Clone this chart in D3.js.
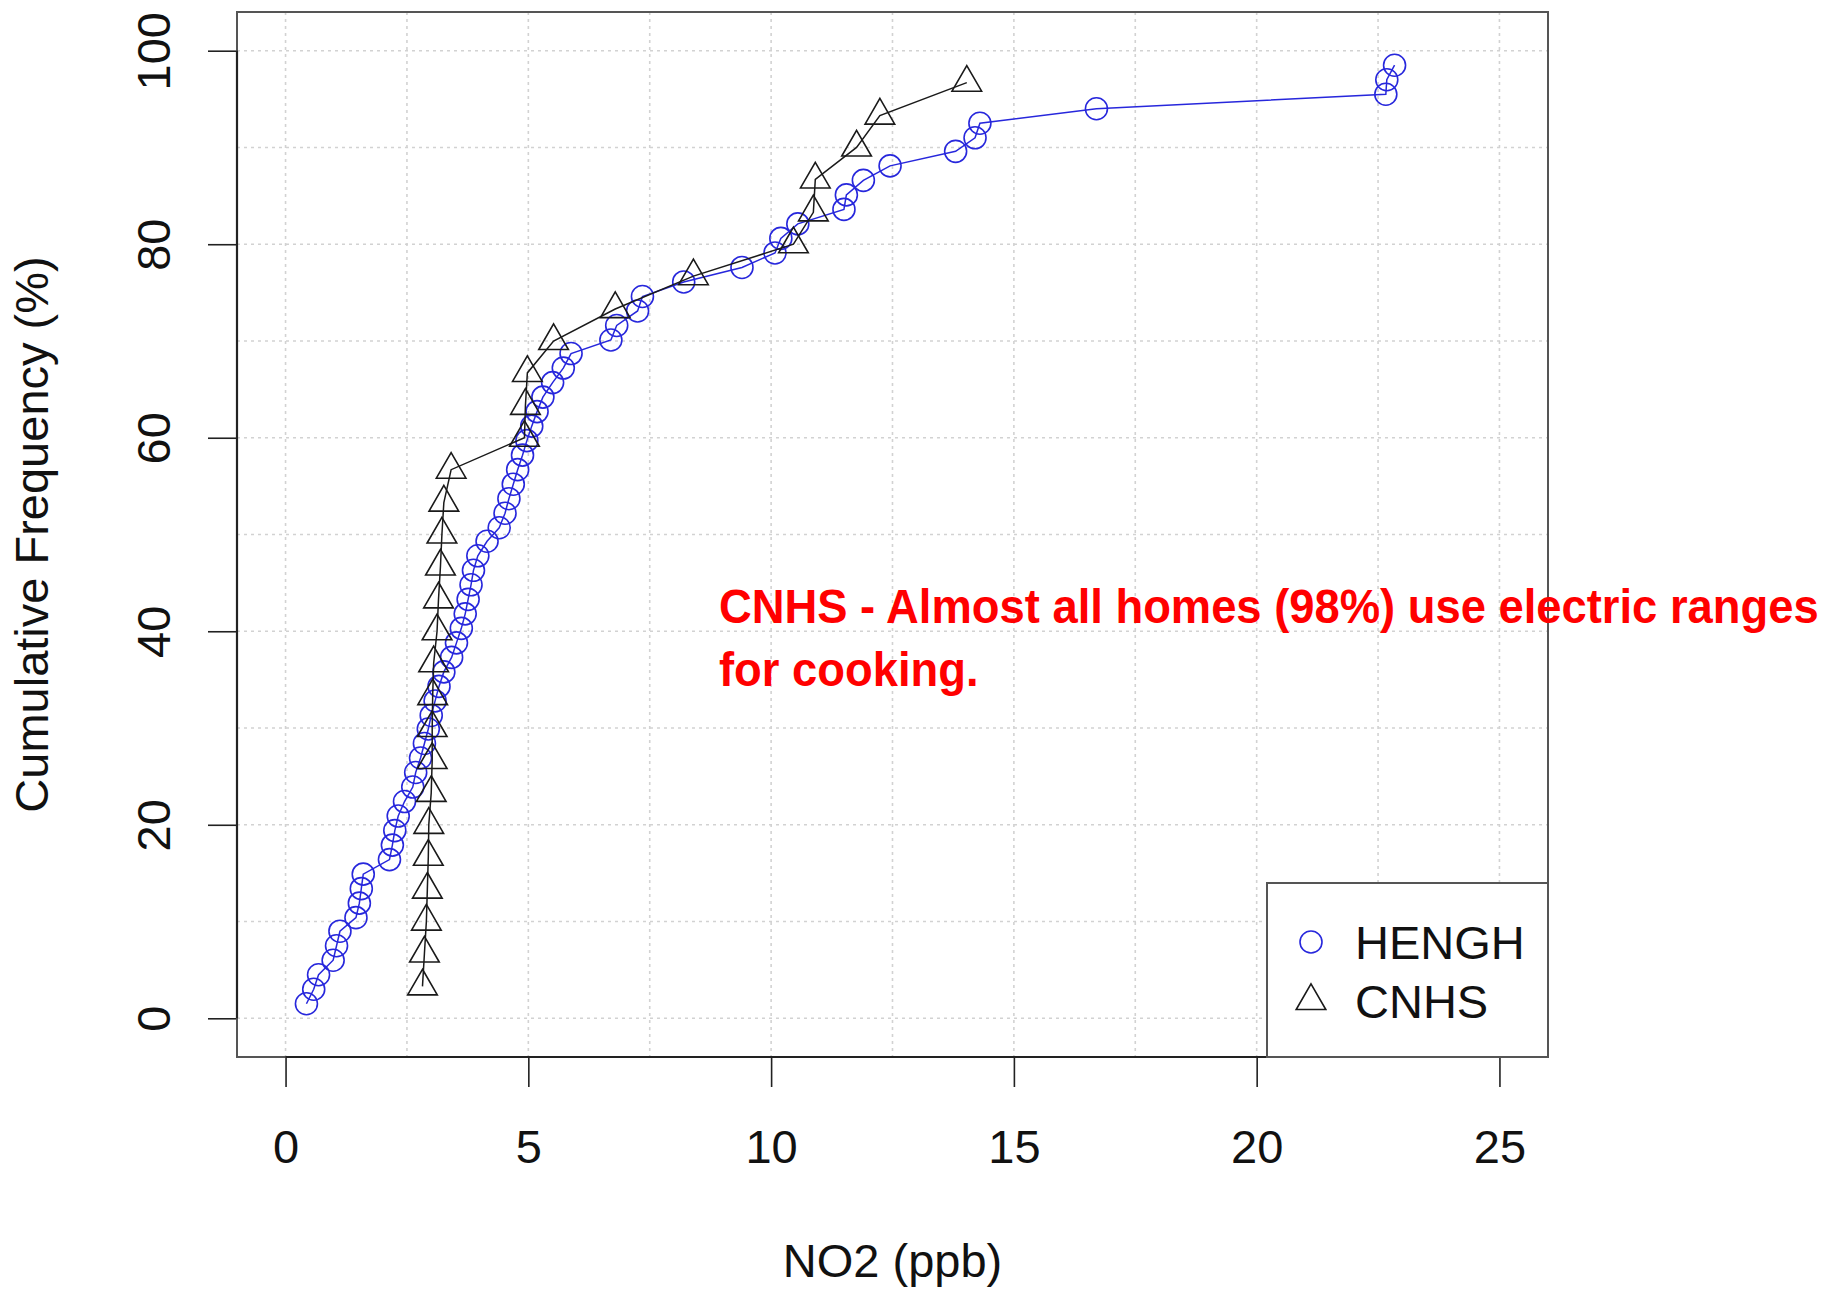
<!DOCTYPE html>
<html>
<head>
<meta charset="utf-8">
<script src="https://cdn.jsdelivr.net/npm/d3@7/dist/d3.min.js"></script>
<style>
	body { margin: 0; background: #fff; }
	svg { display: block; font-family: 'Liberation Sans', Arial, Helvetica, sans-serif; }
</style>
</head>
<body>
<svg id="chart" width="1831" height="1291"></svg>
<script>
// HENGH: cumulative frequency (%) vs NO2 (ppb)
const hengX = [
	0.43, 0.58, 0.68, 0.98, 1.05, 1.12, 1.45, 1.52, 1.56, 1.60,
	2.14, 2.20, 2.25, 2.32, 2.45, 2.62, 2.68, 2.78, 2.86, 2.94,
	3.00, 3.08, 3.16, 3.26, 3.42, 3.52, 3.62, 3.70, 3.76, 3.82,
	3.87, 3.96, 4.15, 4.40, 4.52, 4.60, 4.69, 4.78, 4.88, 4.97,
	5.07, 5.18, 5.30, 5.50, 5.72, 5.88, 6.70, 6.82, 7.25, 7.35,
	8.20, 9.40, 10.08, 10.20, 10.55, 11.50, 11.55, 11.90, 12.45, 13.80,
	14.20, 14.30, 16.70, 22.66, 22.68, 22.84
];
const hengY = [
	1.5, 3.0, 4.5, 6.0, 7.5, 9.0, 10.4, 11.9, 13.4, 14.9,
	16.4, 17.9, 19.4, 20.9, 22.4, 23.9, 25.4, 26.9, 28.4, 29.9,
	31.3, 32.8, 34.3, 35.8, 37.3, 38.8, 40.3, 41.8, 43.3, 44.8,
	46.3, 47.8, 49.3, 50.7, 52.2, 53.7, 55.2, 56.7, 58.2, 59.7,
	61.2, 62.7, 64.2, 65.7, 67.2, 68.7, 70.1, 71.6, 73.1, 74.6,
	76.1, 77.6, 79.1, 80.6, 82.1, 83.6, 85.1, 86.6, 88.1, 89.6,
	91.0, 92.5, 94.0, 95.5, 97.0, 98.5
];

// CNHS
const cnhsX = [
	2.82, 2.86, 2.90, 2.92, 2.94, 2.95, 3.00, 3.02, 3.02, 3.03,
	3.05, 3.12, 3.15, 3.19, 3.22, 3.26, 3.41, 4.92, 4.94, 4.98,
	5.52, 6.79, 8.40, 10.46, 10.87, 10.91, 11.76, 12.24, 14.03
];
const cnhsY = [
	3.3, 6.7, 10.0, 13.3, 16.7, 20.0, 23.3, 26.7, 30.0, 33.3,
	36.7, 40.0, 43.3, 46.7, 50.0, 53.3, 56.7, 60.0, 63.3, 66.7,
	70.0, 73.3, 76.7, 80.0, 83.3, 86.7, 90.0, 93.3, 96.7
];

const xTicks = [0, 5, 10, 15, 20, 25];
const yTicks = [0, 20, 40, 60, 80, 100];
const xGrid = [0, 2.5, 5, 7.5, 10, 12.5, 15, 17.5, 20, 22.5, 25];
const yGrid = [0, 10, 20, 30, 40, 50, 60, 70, 80, 90, 100];

const seriesNames = ['HENGH', 'CNHS'];
const note = ['CNHS - Almost all homes (98%) use electric ranges', 'for cooking.'];

const $svg = d3.select('#chart');

// plot region (R style: limits padded 4%)
const box = { left: 237, top: 12, right: 1548, bottom: 1057 };
const x = d3.scaleLinear().domain([-1, 26]).range([box.left, box.right]);
const y = d3.scaleLinear().domain([-4, 104]).range([box.bottom, box.top]);

const blue = '#2727dc';
const dark = '#1a1a1a';
const markerSize = 380;

const circle = d3.symbol().type(d3.symbolCircle).size(markerSize);
const triangle = d3.symbol().type(d3.symbolTriangle).size(markerSize);

function zip(xs, ys) {
	return xs.map((v, i) => ({ x: v, y: ys[i] }));
}

function setupGrid() {
	const $grid = $svg.append('g').attr('class', 'grid');
	$grid.selectAll('.grid__v')
		.data(xGrid)
		.join('line')
		.attr('class', 'grid__v')
		.attr('x1', d => x(d))
		.attr('x2', d => x(d))
		.attr('y1', box.top)
		.attr('y2', box.bottom);
	$grid.selectAll('.grid__h')
		.data(yGrid)
		.join('line')
		.attr('class', 'grid__h')
		.attr('x1', box.left)
		.attr('x2', box.right)
		.attr('y1', d => y(d))
		.attr('y2', d => y(d));
	$grid.selectAll('line')
		.attr('stroke', '#d2d2d2')
		.attr('stroke-width', 1.6)
		.attr('stroke-dasharray', '3,4');
}

function setupAxes() {
	const $x = $svg.append('g')
		.attr('transform', `translate(0,${box.bottom})`)
		.call(d3.axisBottom(x).tickValues(xTicks).tickSize(30).tickFormat(d3.format('d')));
	$x.select('.domain').remove();
	$x.selectAll('.tick line').attr('stroke', '#222').attr('stroke-width', 1.6);
	$x.selectAll('.tick text')
		.attr('y', 106)
		.attr('dy', 0)
		.attr('fill', '#111')
		.style('font-size', '47px')
		.style('font-family', "'Liberation Sans', Arial, sans-serif");

	const $y = $svg.append('g')
		.attr('transform', `translate(${box.left},0)`)
		.call(d3.axisLeft(y).tickValues(yTicks).tickSize(29).tickFormat(d3.format('d')));
	$y.select('.domain').remove();
	$y.selectAll('.tick line').attr('stroke', '#222').attr('stroke-width', 1.6);
	$y.selectAll('.tick text')
		.attr('transform', 'rotate(-90)')
		.attr('x', 0)
		.attr('y', -67)
		.attr('dy', 0)
		.attr('text-anchor', 'middle')
		.attr('fill', '#111')
		.style('font-size', '47px')
		.style('font-family', "'Liberation Sans', Arial, sans-serif");

	// box, then axis lines over it
	$svg.append('rect')
		.attr('x', box.left)
		.attr('y', box.top)
		.attr('width', box.right - box.left)
		.attr('height', box.bottom - box.top)
		.attr('fill', 'none')
		.attr('stroke', '#555')
		.attr('stroke-width', 2);
	$svg.append('line')
		.attr('x1', x(xTicks[0])).attr('x2', x(xTicks[xTicks.length - 1]))
		.attr('y1', box.bottom).attr('y2', box.bottom)
		.attr('stroke', '#222').attr('stroke-width', 2.2);
	$svg.append('line')
		.attr('x1', box.left).attr('x2', box.left)
		.attr('y1', y(yTicks[0])).attr('y2', y(yTicks[yTicks.length - 1]))
		.attr('stroke', '#222').attr('stroke-width', 2.2);

	$svg.append('text')
		.attr('x', (box.left + box.right) / 2)
		.attr('y', 1277)
		.attr('text-anchor', 'middle')
		.attr('fill', '#111')
		.style('font-size', '47px')
		.text('NO2 (ppb)');

	$svg.append('text')
		.attr('transform', `translate(48,${(box.top + box.bottom) / 2}) rotate(-90)`)
		.attr('text-anchor', 'middle')
		.attr('fill', '#111')
		.style('font-size', '47px')
		.text('Cumulative Frequency (%)');
}

function drawSeries(data, color, symbol) {
	const line = d3.line().x(d => x(d.x)).y(d => y(d.y));
	const $g = $svg.append('g');
	$g.append('path')
		.datum(data)
		.attr('d', line)
		.attr('fill', 'none')
		.attr('stroke', color)
		.attr('stroke-width', 1.5);
	$g.selectAll('.pt')
		.data(data)
		.join('path')
		.attr('class', 'pt')
		.attr('transform', d => `translate(${x(d.x)},${y(d.y)})`)
		.attr('d', symbol)
		.attr('fill', 'none')
		.attr('stroke', color)
		.attr('stroke-width', 1.6);
}

function drawLegend() {
	const $legend = $svg.append('g');
	$legend.append('rect')
		.attr('x', 1267)
		.attr('y', 883)
		.attr('width', box.right - 1267)
		.attr('height', box.bottom - 883)
		.attr('fill', '#fff')
		.attr('stroke', '#555')
		.attr('stroke-width', 2);

	const rows = [
		{ name: seriesNames[0], color: blue, symbol: circle, cy: 942 },
		{ name: seriesNames[1], color: dark, symbol: triangle, cy: 1001 }
	];
	const $row = $legend.selectAll('.legend__row')
		.data(rows)
		.join('g')
		.attr('class', 'legend__row');
	$row.append('path')
		.attr('transform', d => `translate(1311,${d.cy})`)
		.attr('d', d => d.symbol())
		.attr('fill', 'none')
		.attr('stroke', d => d.color)
		.attr('stroke-width', 1.6);
	$row.append('text')
		.attr('x', 1355)
		.attr('y', d => d.cy + 17)
		.attr('fill', '#111')
		.style('font-size', '47px')
		.text(d => d.name);
}

function drawNote() {
	// squeezed a little horizontally, closer to the narrow bold face of the original
	$svg.selectAll('.note')
		.data(note)
		.join('text')
		.attr('class', 'note')
		.attr('transform', (d, i) => `translate(719,${623 + i * 63}) scale(0.945,1)`)
		.attr('fill', '#ff0000')
		.attr('font-weight', 'bold')
		.style('font-size', '48px')
		.text(d => d);
}

function init() {
	$svg.append('rect').attr('width', 1831).attr('height', 1291).attr('fill', '#fff');
	setupGrid();
	setupAxes();
	drawSeries(zip(hengX, hengY), blue, circle);
	drawSeries(zip(cnhsX, cnhsY), dark, triangle);
	drawLegend();
	drawNote();
}

init();
</script>
</body>
</html>
